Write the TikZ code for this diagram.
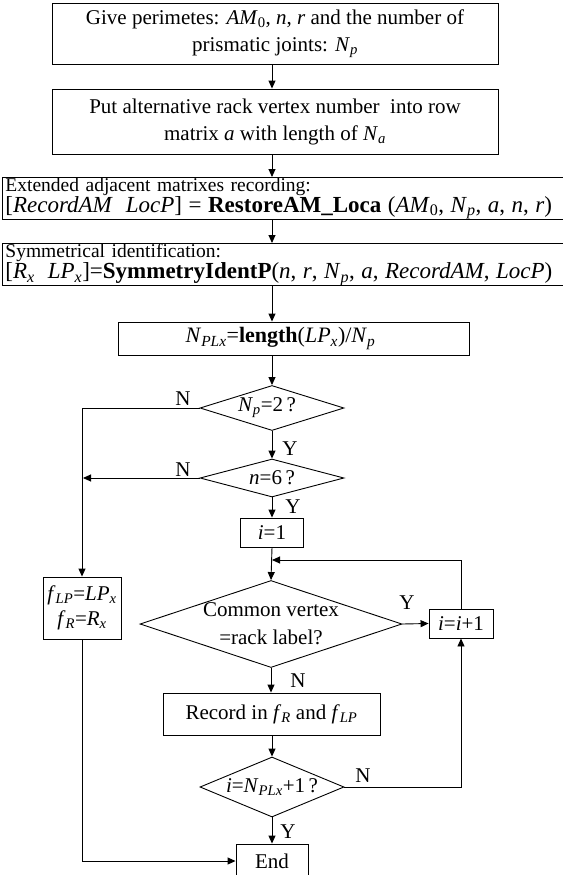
\documentclass[tikz,border=0pt]{standalone}
\usepackage{fontspec}
\setmainfont{Liberation Serif}
\usetikzlibrary{arrows.meta,shapes.geometric}
\newcommand\vr[1]{\textit{#1}}
\newcommand\sbs[1]{\textsubscript{#1}}
\newcommand\fs[2]{\fontsize{#1}{#2}\selectfont}
\begin{document}
\begin{tikzpicture}[x=1pt,y=-1pt,
  every node/.style={font=\fs{21}{24}, inner sep=0pt},
  box/.style={draw, line width=0.9pt, align=center},
  widebox/.style={draw, line width=0.9pt, align=left, anchor=north west,
    text width=700pt, inner xsep=3pt, minimum height=42pt, font=\fs{19.5}{20}},
  decide/.style={draw, line width=0.9pt, diamond},
  lbl/.style={font=\fs{21}{24}},
  flow/.style={line width=0.9pt, -{Triangle[length=8pt,width=7pt]}}]
\useasboundingbox (0,0) rectangle (562,875);
\coordinate (axis) at (272,0);

% process steps along the main column
\node[box, minimum width=446pt, minimum height=61pt, font=\fs{21}{27}] (give) at (275,33.5)
  {Give perimetes: \vr{AM}\sbs{0}, \vr{n}, \vr{r} and the number of\\prismatic joints: \vr{N}\sbs{\vr{p}}};
\node[box, minimum width=446pt, minimum height=65pt, font=\fs{21}{27}] (put) at (275,121.5)
  {Put alternative rack vertex number\ \ into row\\matrix \vr{a} with length of \vr{N}\sbs{\vr{a}}};
\node[widebox] (rec) at (2,177)
  {Extended adjacent matrixes recording:\\\fs{23}{22}{[}\vr{RecordAM}\ \ \vr{LocP}] = \textbf{RestoreAM\_Loca} (\vr{AM}\sbs{0}, \vr{N}\sbs{\vr{p}}, \vr{a}, \vr{n}, \vr{r})};
\node[widebox] (sym) at (2,243)
  {Symmetrical identification:\\\fs{23}{22}{[}\vr{R}\sbs{\vr{x}}\ \ \vr{LP}\sbs{\vr{x}}]=\textbf{SymmetryIdentP}(\vr{n}, \vr{r}, \vr{N}\sbs{\vr{p}}, \vr{a}, \vr{RecordAM}, \vr{LocP})};
\node[box, minimum width=351pt, minimum height=33pt, font=\fs{22}{24}] (len) at (293.5,338.5)
  {\vr{N}\sbs{\vr{PLx}}=\textbf{length}(\vr{LP}\sbs{\vr{x}})/\vr{N}\sbs{\vr{p}}\hspace*{26pt}};

% decisions: the outline is the named node, the question sits on top of it
\node[decide, minimum width=144pt, minimum height=45pt] (np) at (272,408) {};
\node at ([xshift=-5pt]np.center) {\vr{N}\sbs{\vr{p}}=2\,?};
\node[decide, minimum width=144pt, minimum height=38pt] (nsix) at (272,478) {};
\node at (nsix) {\vr{n}=6\,?};
\node[box, minimum width=63pt, minimum height=29pt] (ione) at (272,532.5) {\vr{i}=1};
\node[decide, minimum width=262pt, minimum height=87pt] (cv) at (271,624) {};
\node[align=center, font=\fs{21}{28}] at (cv) {Common vertex\\=rack label?};
\node[box, minimum width=64pt, minimum height=29pt] (inc) at (461,623.5) {\vr{i}=\vr{i}+1};
\node[box, minimum width=78pt, minimum height=62pt, font=\fs{21}{25}] (fset) at (82,608)
  {\vr{f}\sbs{\vr{LP}}=\vr{LP}\sbs{\vr{x}}\\\vr{f}\sbs{\vr{R}}=\vr{R}\sbs{\vr{x}}};
\node[box, minimum width=217pt, minimum height=42pt] (store) at (271.5,714)
  {Record in \vr{f}\sbs{\vr{R}} and \vr{f}\sbs{\vr{LP}}};
\node[decide, minimum width=144pt, minimum height=60pt] (last) at (272,787) {};
\node at (last) {\vr{i}=\vr{N}\sbs{\vr{PLx}}+1\,?};
\node[box, minimum width=72pt, minimum height=34pt] (fin) at (272,861) {End};

% helper points for the side branches
\coordinate (leftbus) at (83,478);
\coordinate (loopin) at (272,560);

% straight flow
\draw[flow] (give.south -| axis) -- (put.north -| axis);
\draw[flow] (put.south -| axis) -- (rec.north -| axis);
\draw[flow] (rec.south -| axis) -- (sym.north -| axis);
\draw[flow] (sym.south -| axis) -- (len.north -| axis);
\draw[flow] (len.south -| axis) -- (np.north);
\draw[flow] (np.south) -- (nsix.north);
\draw[flow] (nsix.south) -- (ione.north);
\draw[flow] (ione.south) -- (cv.north);
\draw[flow] (cv.south) -- (store.north -| cv.south);
\draw[flow] (store.south -| last.north) -- (last.north);
\draw[flow] (last.south) -- (fin.north);

% branches
\draw[flow] (np.west) -| (fset.north);
\draw[flow] (nsix.west) -- (leftbus);
\draw[flow] (fset.south) |- (fin.west);
\draw[flow] (cv.east) -- (inc.west);
\draw[flow] (inc.north) |- (loopin);
\draw[flow] (last.east) -| (inc.south);

% branch labels
\node[lbl] at (183,399) {N};
\node[lbl] at (290,449) {Y};
\node[lbl] at (183,470) {N};
\node[lbl] at (293,507) {Y};
\node[lbl] at (407,603) {Y};
\node[lbl] at (298,681) {N};
\node[lbl] at (363,776) {N};
\node[lbl] at (288,832) {Y};
\end{tikzpicture}
\end{document}
